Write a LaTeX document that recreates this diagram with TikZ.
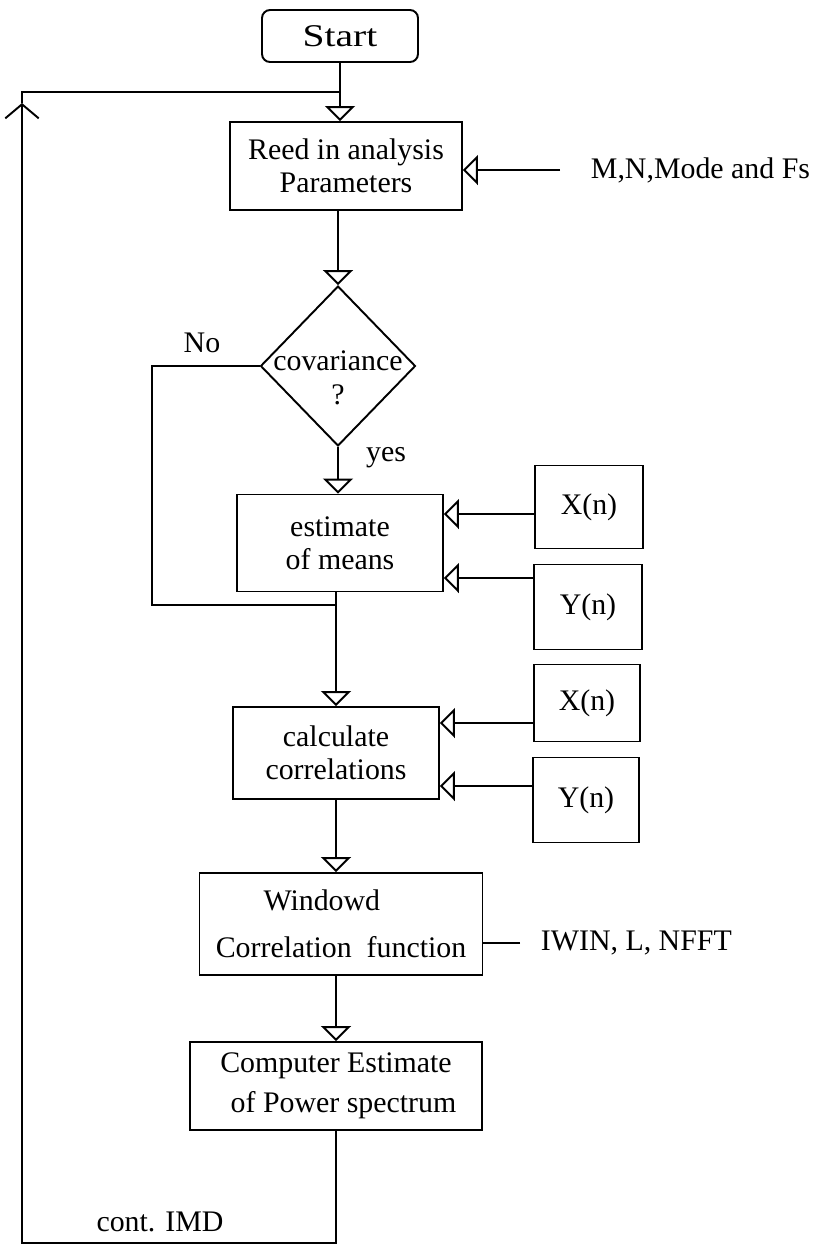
\documentclass[tikz,border=0pt]{standalone}
\usepackage{fontspec}
\setmainfont{Liberation Serif}
\newfontfamily\widefont[FakeStretch=1.25]{Liberation Serif}
\usetikzlibrary{arrows.meta,shapes.geometric,calc}
\begin{document}
\begin{tikzpicture}[x=0.02cm,y=-0.02cm,
  line width=1.1pt,
  every node/.style={font=\fontsize{17}{19}\selectfont, inner sep=0pt},
  box/.style={draw, rectangle, align=center},
  tri/.style={-{Triangle[open,length=8.5pt,width=17pt]}},
  chev/.style={-{Straight Barb[length=8pt,width=19pt]}}]
\useasboundingbox (0,0) rectangle (823,1249);

% main boxes
\node[box, minimum width=3.12cm, minimum height=1.04cm, rounded corners=0.16cm, font=\widefont\fontsize{18}{20}\selectfont] (start) at (340,36) {Start};
\node[box, minimum width=4.64cm, minimum height=1.76cm] (reed) at (346,166) {Reed in analysis\\Parameters};
\node[draw, diamond, minimum width=3.1cm, minimum height=3.2cm] (dia) at (338,366) {};
\node[align=center] (dialabel) at (338,378) {covariance\\?};
\node[box, minimum width=4.12cm, minimum height=1.94cm] (est) at (340,543) {estimate\\of means};
\node[box, minimum width=4.12cm, minimum height=1.84cm] (calc) at (336,753) {calculate\\correlations};
\node[box, minimum width=5.66cm, minimum height=2.04cm, align=left] (win) at (341,924) {\hspace*{1.6em}Windowd\\[8pt]Correlation\ \ function};
\node[box, minimum width=5.84cm, minimum height=1.76cm] (comp) at (336,1086) {Computer Estimate\\[4pt]\ \ of Power spectrum};

% input boxes
\node[box, minimum width=2.16cm, minimum height=1.66cm] (x1) at (589,507) {X(n)};
\node[box, minimum width=2.16cm, minimum height=1.7cm] (y1) at (588,607) {Y(n)};
\node[box, minimum width=2.12cm, minimum height=1.54cm] (x2) at (587,703) {X(n)};
\node[box, minimum width=2.12cm, minimum height=1.7cm] (y2) at (586,800) {Y(n)};

% side labels
\node[anchor=west, inner xsep=0.6cm] (mn) at (560,170) {M,N,Mode and Fs};
\node[anchor=west, inner xsep=0.4cm] (iwin) at (520,943) {IWIN, L, NFFT};
\node (no) at (202,343) {No};
\node (yes) at (386,458) {yes};
\node (cont) at (160,1222) {cont. IMD};

% helper coordinates
\coordinate (nb) at (152,605);
\coordinate (lb) at (22,1243);
\coordinate (ct) at (22,103);
\coordinate (lt) at (22,92);

% main flow
\draw[tri] (start.south) -- (start.south |- reed.north);
\draw[tri] (dia.north |- reed.south) -- (dia.north);
\draw[tri] (dia.south) -- (dia.south |- est.north);
\draw[tri] (est.south -| calc.south) -- (calc.north);
\draw[tri] (calc.south) -- (calc.south |- win.north);
\draw[tri] (calc.south |- win.south) -- (calc.south |- comp.north);

% no branch
\draw (dia.west) -| (nb) -- (nb -| calc.south);

% loop back
\draw[chev] (calc.south |- comp.south) |- (lb) -- (ct);
\draw (ct) -- (lt) -- (lt -| start.south);

% side inputs
\draw[tri] (mn.west) -- (mn.west -| reed.east);
\draw (iwin.west) -- (iwin.west -| win.east);
\draw[tri] ([yshift=-0.14cm]x1.west) coordinate (a1) -- (a1 -| est.east);
\draw[tri] ([yshift=0.58cm]y1.west) coordinate (b1) -- (b1 -| est.east);
\draw[tri] ([yshift=-0.4cm]x2.west) coordinate (a2) -- (a2 -| calc.east);
\draw[tri] ([yshift=0.28cm]y2.west) coordinate (b2) -- (b2 -| calc.east);
\end{tikzpicture}
\end{document}
